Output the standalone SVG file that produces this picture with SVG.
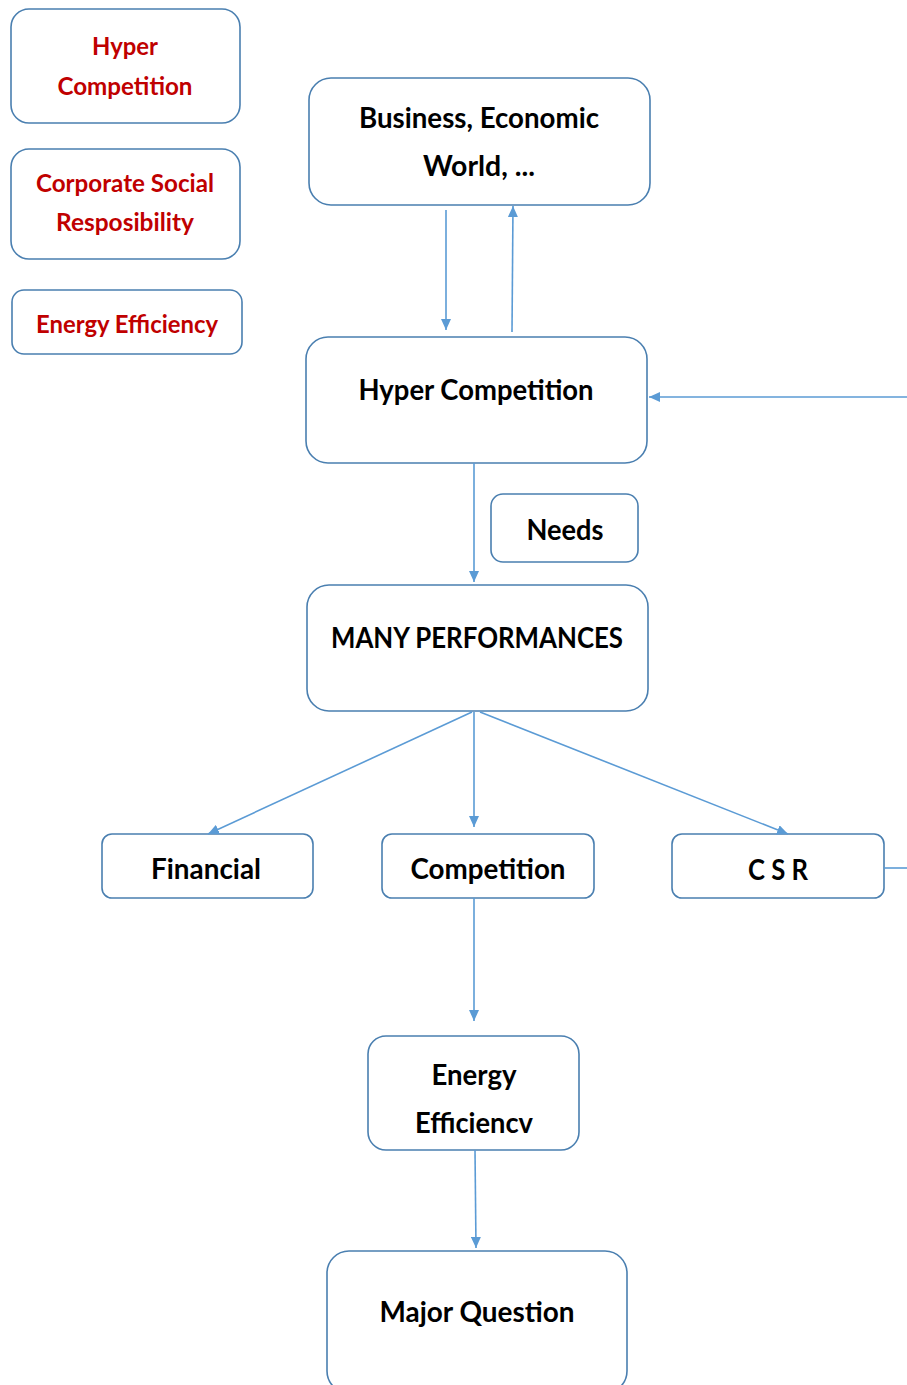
<svg xmlns="http://www.w3.org/2000/svg" width="907" height="1385" viewBox="0 0 907 1385">
<defs>
<style>
.box{fill:#fff;stroke:#4a7fb0;stroke-width:1.6}
.t{font-family:Lato,"Open Sans","DejaVu Sans",sans-serif;font-weight:bold;font-size:28px;fill:#000;text-anchor:middle}
.r{font-family:Lato,"Open Sans","DejaVu Sans",sans-serif;font-weight:bold;font-size:25px;fill:#c00000;text-anchor:middle}
.c{stroke:#5b9bd5;stroke-width:1.6;fill:none;marker-end:url(#ah)}
</style>
<marker id="ah" markerUnits="userSpaceOnUse" markerWidth="12" markerHeight="10" refX="11" refY="5" orient="auto">
<path d="M0,0 L11,5 L0,10 z" fill="#5b9bd5"/>
</marker>
</defs>
<rect width="907" height="1385" fill="#fff"/>
<g id="legend-hyper">
<rect class="box" x="11" y="9" width="229" height="114" rx="18"/>
<text class="r" x="125" y="55" textLength="66" lengthAdjust="spacingAndGlyphs">Hyper</text>
<text class="r" x="125" y="95" textLength="135" lengthAdjust="spacingAndGlyphs">Competition</text>
</g>
<g id="legend-csr">
<rect class="box" x="11" y="149" width="229" height="110" rx="18"/>
<text class="r" x="125" y="192" textLength="178" lengthAdjust="spacingAndGlyphs">Corporate Social</text>
<text class="r" x="125" y="231" textLength="138" lengthAdjust="spacingAndGlyphs">Resposibility</text>
</g>
<g id="legend-energy">
<rect class="box" x="12" y="290" width="230" height="64" rx="12"/>
<text class="r" x="127" y="333" textLength="182" lengthAdjust="spacingAndGlyphs">Energy Efficiency</text>
</g>
<g id="business">
<rect class="box" x="309" y="78" width="341" height="127" rx="22"/>
<text class="t" x="479" y="128" textLength="240" lengthAdjust="spacingAndGlyphs">Business, Economic</text>
<text class="t" x="479" y="176" textLength="112" lengthAdjust="spacingAndGlyphs">World, ...</text>
</g>
<g id="hyper">
<rect class="box" x="306" y="337" width="341" height="126" rx="22"/>
<text class="t" x="476" y="400" textLength="235" lengthAdjust="spacingAndGlyphs">Hyper Competition</text>
</g>
<g id="needs">
<rect class="box" x="491" y="494" width="147" height="68" rx="12"/>
<text class="t" x="565" y="540" textLength="77" lengthAdjust="spacingAndGlyphs">Needs</text>
</g>
<g id="many">
<rect class="box" x="307" y="585" width="341" height="126" rx="22"/>
<text class="t" x="477" y="648" textLength="292" lengthAdjust="spacingAndGlyphs">MANY PERFORMANCES</text>
</g>
<g id="financial">
<rect class="box" x="102" y="834" width="211" height="64" rx="10"/>
<text class="t" x="206" y="879" textLength="110" lengthAdjust="spacingAndGlyphs">Financial</text>
</g>
<g id="competition">
<rect class="box" x="382" y="834" width="212" height="64" rx="10"/>
<text class="t" x="488" y="879" textLength="155" lengthAdjust="spacingAndGlyphs">Competition</text>
</g>
<g id="csr">
<rect class="box" x="672" y="834" width="212" height="64" rx="10"/>
<text class="t" x="778" y="880" textLength="60" lengthAdjust="spacingAndGlyphs">C S R</text>
</g>
<g id="energy">
<rect class="box" x="368" y="1036" width="211" height="114" rx="18"/>
<text class="t" x="474" y="1085" textLength="85" lengthAdjust="spacingAndGlyphs">Energy</text>
<text class="t" x="474" y="1133" textLength="118" lengthAdjust="spacingAndGlyphs">Efficiencv</text>
</g>
<g id="major">
<rect class="box" x="327" y="1251" width="300" height="142" rx="22"/>
<text class="t" x="477" y="1322" textLength="195" lengthAdjust="spacingAndGlyphs">Major Question</text>
</g>
<g id="connectors">
<line class="c" x1="446" y1="210" x2="446" y2="330"/>
<line class="c" x1="512" y1="332" x2="513" y2="206"/>
<line class="c" x1="907" y1="397" x2="649" y2="397"/>
<line class="c" x1="474" y1="463" x2="474" y2="582"/>
<line class="c" x1="472" y1="712" x2="208" y2="834"/>
<line class="c" x1="474" y1="712" x2="474" y2="827"/>
<line class="c" x1="480" y1="712" x2="788" y2="834"/>
<line x1="884" y1="868" x2="907" y2="868" stroke="#5b9bd5" stroke-width="1.6"/>
<line class="c" x1="474" y1="898" x2="474" y2="1021"/>
<line class="c" x1="475" y1="1150" x2="476" y2="1248"/>
</g>
</svg>
